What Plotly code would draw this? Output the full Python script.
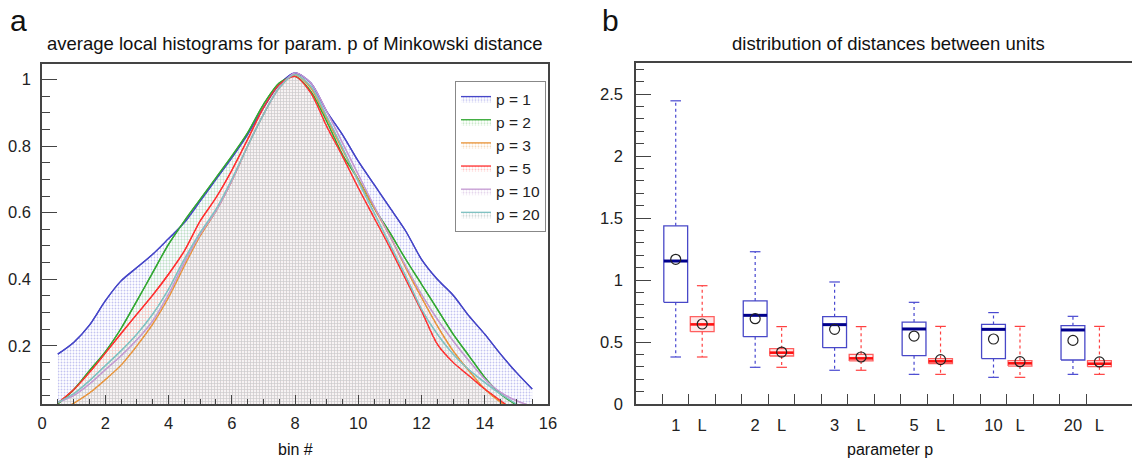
import plotly.graph_objects as go

# ---------------- data: panel a ----------------
bins = [0.5, 1.0, 1.5, 2.0, 2.5, 3.0, 3.5, 4.0, 4.5, 5.0, 5.5, 6.0, 6.5, 7.0, 7.5, 8.0,
        8.5, 9.0, 9.5, 10.0, 10.5, 11.0, 11.5, 12.0, 12.5, 13.0, 13.5, 14.0, 14.5, 15.0, 15.5]
hist_p1 = [0.175, 0.21, 0.262, 0.335, 0.395, 0.435, 0.475, 0.522, 0.57, 0.635, 0.70, 0.765, 0.835, 0.915, 0.985, 1.02,
           0.99, 0.905, 0.835, 0.755, 0.685, 0.615, 0.545, 0.46, 0.40, 0.352, 0.29, 0.235, 0.175, 0.12, 0.07]
hist_p2 = [0.025, 0.068, 0.125, 0.182, 0.252, 0.335, 0.42, 0.505, 0.575, 0.64, 0.705, 0.77, 0.84, 0.925, 0.99, 1.01,
           0.965, 0.875, 0.775, 0.70, 0.615, 0.54, 0.46, 0.385, 0.31, 0.235, 0.17, 0.105, 0.055, 0.022]
hist_p3 = [0.0, 0.027, 0.058, 0.098, 0.142, 0.20, 0.265, 0.345, 0.44, 0.53, 0.605, 0.695, 0.80, 0.895, 0.975, 1.015,
           0.975, 0.885, 0.79, 0.70, 0.615, 0.53, 0.435, 0.345, 0.26, 0.185, 0.125, 0.07, 0.03, 0.0]
hist_p5 = [0.028, 0.068, 0.12, 0.178, 0.237, 0.295, 0.352, 0.415, 0.485, 0.575, 0.645, 0.727, 0.82, 0.915, 0.985, 1.01,
           0.96, 0.86, 0.77, 0.675, 0.585, 0.495, 0.40, 0.305, 0.205, 0.15, 0.11, 0.07, 0.035, 0.0]
hist_p10 = [0.03, 0.05, 0.085, 0.128, 0.17, 0.218, 0.275, 0.355, 0.45, 0.535, 0.605, 0.695, 0.80, 0.895, 0.975, 1.02,
            0.99, 0.905, 0.81, 0.715, 0.62, 0.53, 0.44, 0.355, 0.28, 0.215, 0.155, 0.10, 0.06, 0.035, 0.018]
hist_p20 = [0.03, 0.056, 0.095, 0.14, 0.185, 0.235, 0.295, 0.37, 0.46, 0.54, 0.61, 0.70, 0.80, 0.895, 0.975, 1.015,
            0.98, 0.89, 0.795, 0.695, 0.60, 0.505, 0.41, 0.31, 0.235, 0.175, 0.128, 0.09, 0.055, 0.025]

series_names = ["p = 1", "p = 2", "p = 3", "p = 5", "p = 10", "p = 20"]
series_vals = [hist_p1, hist_p2, hist_p3, hist_p5, hist_p10, hist_p20]
series_colors = ["#4646c8", "#33a833", "#e8943a", "#ff3030", "#c49ad2", "#80c2c2"]
fill_tints = ["#c4c4f0", "#c2e6c2", "#f4d8b8", "#ffc4c4", "#e2d2ea", "#c8d2d2"]

# ---------------- data: panel b ----------------
group_labels = ["1", "L", "2", "L", "3", "L", "5", "L", "10", "L", "20", "L"]
box_kind = ["p", "L", "p", "L", "p", "L", "p", "L", "p", "L", "p", "L"]
whisk_lo = [0.379, 0.379, 0.296, 0.296, 0.272, 0.272, 0.239, 0.239, 0.215, 0.215, 0.239, 0.239]
q1 = [0.82, 0.583, 0.543, 0.387, 0.454, 0.347, 0.39, 0.325, 0.366, 0.306, 0.355, 0.301]
median = [1.153, 0.642, 0.715, 0.414, 0.64, 0.368, 0.605, 0.344, 0.602, 0.328, 0.597, 0.325]
q3 = [1.437, 0.704, 0.831, 0.446, 0.704, 0.401, 0.661, 0.366, 0.642, 0.35, 0.632, 0.35]
whisk_hi = [2.445, 0.954, 1.228, 0.624, 0.984, 0.624, 0.82, 0.626, 0.737, 0.626, 0.707, 0.626]
mean = [1.167, 0.645, 0.688, 0.419, 0.602, 0.379, 0.548, 0.358, 0.524, 0.341, 0.513, 0.339]

FONT = "Liberation Sans, Arial, Helvetica, sans-serif"
AX = "#444444"
W, H = 1132, 459

fig = go.Figure()

# ---------------- panel a traces ----------------
# filled areas (with legend entries)
for name, vals, col, tint in zip(series_names, series_vals, series_colors, fill_tints):
    fig.add_trace(go.Scatter(
        x=bins[:len(vals)], y=vals, name=name, mode="lines",
        line=dict(color=col, width=1.3, shape="spline", smoothing=0.8),
        fill="tozeroy",
        fillpattern=dict(shape=".", fgcolor=tint, bgcolor="rgba(255,255,255,0)",
                         size=3, solidity=0.3, fgopacity=1),
        xaxis="x", yaxis="y", showlegend=True,
    ))
# curves redrawn on top of all fills
for name, vals, col in zip(series_names, series_vals, series_colors):
    fig.add_trace(go.Scatter(
        x=bins[:len(vals)], y=vals, name=name, mode="lines",
        line=dict(color=col, width=1.3, shape="spline", smoothing=0.8),
        xaxis="x", yaxis="y", showlegend=False, hoverinfo="skip",
    ))

# ---------------- panel b traces ----------------
slot_pos = []
pos = 1
for i in range(len(group_labels)):
    slot_pos.append(pos)
    pos += 1 if box_kind[i] == "p" else 2

half_w = 0.45
cap_w = 0.2

for kind in ["p", "L"]:
    idx = [i for i in range(len(group_labels)) if box_kind[i] == kind]
    if kind == "p":
        bcol, mcol, fillc, mwid = "#4848c8", "#00008c", "rgba(0,0,0,0)", 3
        wcol = "#4848d0"
    else:
        bcol, mcol, fillc, mwid = "rgba(255,70,70,0.85)", "#ff1010", "rgba(255,90,90,0.15)", 2.6
        wcol = "#ff4040"
    bx, by, wx, wy, cx, cy, mx, my = [], [], [], [], [], [], [], []
    for i in idx:
        c = slot_pos[i]
        bx += [c - half_w, c + half_w, c + half_w, c - half_w, c - half_w, None]
        by += [q1[i], q1[i], q3[i], q3[i], q1[i], None]
        wx += [c, c, None, c, c, None]
        wy += [q3[i], whisk_hi[i], None, q1[i], whisk_lo[i], None]
        cx += [c - cap_w, c + cap_w, None, c - cap_w, c + cap_w, None]
        cy += [whisk_hi[i], whisk_hi[i], None, whisk_lo[i], whisk_lo[i], None]
        mx += [c - half_w, c + half_w, None]
        my += [median[i], median[i], None]
    fig.add_trace(go.Scatter(x=wx, y=wy, mode="lines", line=dict(color=wcol, width=1.2, dash="3px,3px"),
                             xaxis="x2", yaxis="y2", showlegend=False, hoverinfo="skip"))
    fig.add_trace(go.Scatter(x=cx, y=cy, mode="lines", line=dict(color=wcol, width=1.2),
                             xaxis="x2", yaxis="y2", showlegend=False, hoverinfo="skip"))
    fig.add_trace(go.Scatter(x=bx, y=by, mode="lines", line=dict(color=bcol, width=1.3),
                             fill="toself", fillcolor=fillc,
                             xaxis="x2", yaxis="y2", showlegend=False, hoverinfo="skip"))
    fig.add_trace(go.Scatter(x=mx, y=my, mode="lines", line=dict(color=mcol, width=mwid),
                             xaxis="x2", yaxis="y2", showlegend=False, hoverinfo="skip"))

fig.add_trace(go.Scatter(x=slot_pos, y=mean, mode="markers",
                         marker=dict(symbol="circle-open", size=10, color="#222222", line=dict(width=1.2)),
                         xaxis="x2", yaxis="y2", showlegend=False))

minor_vals = [p - 0.5 for p in range(1, slot_pos[-1] + 1)]

# ---------------- layout ----------------
def px_x(v):
    return v / W

def px_y(v):
    return 1 - v / H

tickfont = dict(family=FONT, size=16.5, color="#222222")

fig.update_layout(
    width=W, height=H,
    margin=dict(l=0, r=0, t=0, b=0),
    paper_bgcolor="white", plot_bgcolor="white",
    font=dict(family=FONT, size=16, color="#222222"),
    showlegend=True,
    legend=dict(x=px_x(455), y=px_y(81), xanchor="left", yanchor="top",
                bordercolor="#888888", borderwidth=1, bgcolor="white",
                font=dict(family=FONT, size=15.5, color="#222222"),
                itemwidth=30, tracegroupgap=0),
    xaxis=dict(domain=[px_x(42), px_x(548)], range=[0, 16], dtick=2, tick0=0,
               showline=True, linecolor=AX, linewidth=1.5, mirror=True,
               ticks="inside", ticklen=9, tickcolor=AX, tickwidth=1.2,
               minor=dict(ticks="inside", dtick=0.5, tick0=0, ticklen=5, tickcolor=AX, tickwidth=1.2),
               showgrid=False, zeroline=False, tickfont=tickfont, ticklabelstandoff=3,
               anchor="y", automargin=False),
    yaxis=dict(domain=[px_y(404), px_y(64)], range=[0.025, 1.047], dtick=0.2, tick0=0,
               showline=True, linecolor=AX, linewidth=1.5, mirror=True,
               ticks="inside", ticklen=15, tickcolor=AX, tickwidth=1.2,
               minor=dict(ticks="inside", dtick=0.05, tick0=0, ticklen=8, tickcolor=AX, tickwidth=1.2),
               showgrid=False, zeroline=False, tickfont=tickfont, ticklabelstandoff=6,
               anchor="x", automargin=False),
    xaxis2=dict(domain=[px_x(636), 1.0], range=[-0.5, 18.23],
                tickmode="array", tickvals=slot_pos, ticktext=group_labels, ticks="",
                showline=True, linecolor=AX, linewidth=1.5, mirror=True,
                minor=dict(ticks="inside", tickmode="array", tickvals=minor_vals, ticklen=10,
                           tickcolor=AX, tickwidth=1.2),
                showgrid=False, zeroline=False, tickfont=tickfont, ticklabelstandoff=5,
                anchor="y2", automargin=False),
    yaxis2=dict(domain=[px_y(404), px_y(63)], range=[0, 2.75], dtick=0.5, tick0=0,
                showline=True, linecolor=AX, linewidth=1.5, mirror=False,
                ticks="inside", ticklen=15, tickcolor=AX, tickwidth=1.2,
                minor=dict(ticks="inside", dtick=0.1, tick0=0, ticklen=8, tickcolor=AX, tickwidth=1.2),
                showgrid=False, zeroline=False, tickfont=tickfont, ticklabelstandoff=8,
                anchor="x2", automargin=False),
)

annots = [
    dict(text="a", x=px_x(8), y=px_y(21), xanchor="left", yanchor="middle", font=dict(size=30)),
    dict(text="b", x=px_x(600), y=px_y(21), xanchor="left", yanchor="middle", font=dict(size=30)),
    dict(text="average local histograms for param. p of Minkowski distance", x=px_x(295), y=px_y(43),
         xanchor="center", yanchor="middle", font=dict(size=18.5)),
    dict(text="distribution of distances between units", x=px_x(888), y=px_y(43),
         xanchor="center", yanchor="middle", font=dict(size=18.5)),
    dict(text="bin #", x=px_x(295), y=px_y(449), xanchor="center", yanchor="middle", font=dict(size=16)),
    dict(text="parameter p", x=px_x(890), y=px_y(449), xanchor="center", yanchor="middle", font=dict(size=16)),
]
for a in annots:
    a.update(xref="paper", yref="paper", showarrow=False)
    a["font"] = dict(family=FONT, color="#111111", **a["font"])
fig.update_layout(annotations=annots)

fig.write_html("out.html", config={"displayModeBar": False},
               post_script="document.body.style.margin='0px';document.body.style.padding='0px';")
